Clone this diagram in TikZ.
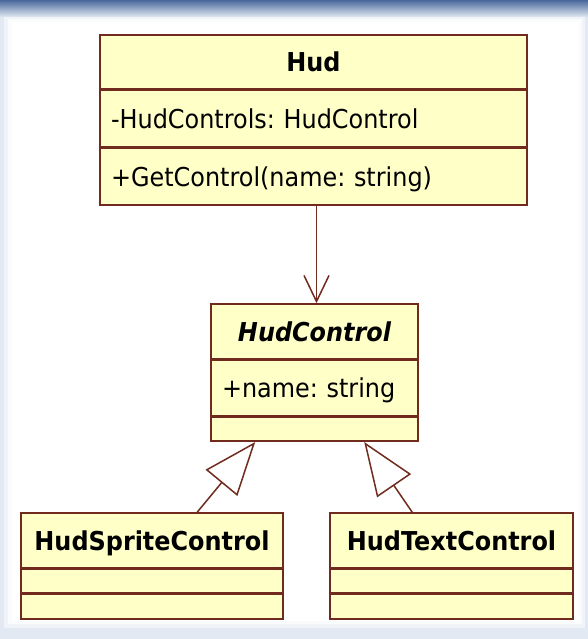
\documentclass[tikz,border=0pt]{standalone}
\usepackage{fontspec}
\setmainfont{DejaVu Sans}[FakeStretch=0.92]
\usetikzlibrary{arrows.meta}
\definecolor{umlborder}{RGB}{112,42,30}
\definecolor{umlfill}{RGB}{255,255,200}
\definecolor{bgedge}{RGB}{226,233,243}
\definecolor{bgtop}{RGB}{72,104,156}
\frenchspacing
\tikzset{
  cls/.style={draw=umlborder, fill=umlfill, line width=1.6pt, inner sep=0pt,
              text height=19pt, text depth=0pt, font=\fontsize{26}{30}\selectfont},
  ctitle/.style={cls, font=\fontsize{26}{30}\selectfont\bfseries},
  cattr/.style={cls, align=left, inner xsep=11pt},
  conn/.style={draw=umlborder, line width=1.5pt},
}
\begin{document}
\begin{tikzpicture}[x=1pt,y=-1pt]
% background
\fill[bgedge] (0,0) rectangle (588,639);
\fill[white!50!bgedge] (4,16) rectangle (585,628);
\fill[white!80!bgedge] (8,19) rectangle (582,624);
\fill[white] (12,22) rectangle (579,621);
\shade[top color=bgtop, bottom color=bgedge] (0,0) rectangle (588,17);
\useasboundingbox (0,0) rectangle (588,639);

% Hud
\node[ctitle, minimum width=427pt, minimum height=54pt] (hud1) at (313.5,62) {Hud};
\node[cattr, text width=405pt, minimum height=56pt, anchor=north] (hud2) at (hud1.south) {-HudControls: HudControl};
\node[cattr, text width=405pt, minimum height=57pt, anchor=north] (hud3) at (hud2.south) {+GetControl(name: string)};

% HudControl
\node[ctitle, font=\fontsize{26}{30}\selectfont\bfseries\itshape, minimum width=207pt, minimum height=55pt] (hc1) at (314.5,331.5) {HudControl};
\node[cattr, text width=185pt, minimum height=55pt, anchor=north] (hc2) at (hc1.south) {+name: string};
\node[cls, minimum width=207pt, minimum height=24pt, anchor=north] (hc3) at (hc2.south) {};

% HudSpriteControl
\node[ctitle, minimum width=262pt, minimum height=55pt] (sp1) at (152,540.5) {HudSpriteControl};
\node[cls, minimum width=262pt, minimum height=23pt, anchor=north] (sp2) at (sp1.south) {};
\node[cls, minimum width=262pt, minimum height=25pt, anchor=north] (sp3) at (sp2.south) {};

% HudTextControl
\node[ctitle, minimum width=243pt, minimum height=55pt] (tx1) at (451.5,540.5) {HudTextControl};
\node[cls, minimum width=243pt, minimum height=23pt, anchor=north] (tx2) at (tx1.south) {};
\node[cls, minimum width=243pt, minimum height=25pt, anchor=north] (tx3) at (tx2.south) {};

% association
\draw[conn, -{Straight Barb[length=26pt, width=25pt]}] ([xshift=2pt]hc1.north |- hud3.south) -- ([xshift=2pt]hc1.north);

% generalizations
\draw[conn, -{Triangle[length=53pt, width=41pt, fill=white]}] ([xshift=177pt]sp1.north west) -- ([xshift=45pt]hc3.south west);
\draw[conn, -{Triangle[length=53pt, width=41pt, fill=white]}] ([xshift=83pt]tx1.north west) -- ([xshift=154pt]hc3.south west);
\end{tikzpicture}
\end{document}
